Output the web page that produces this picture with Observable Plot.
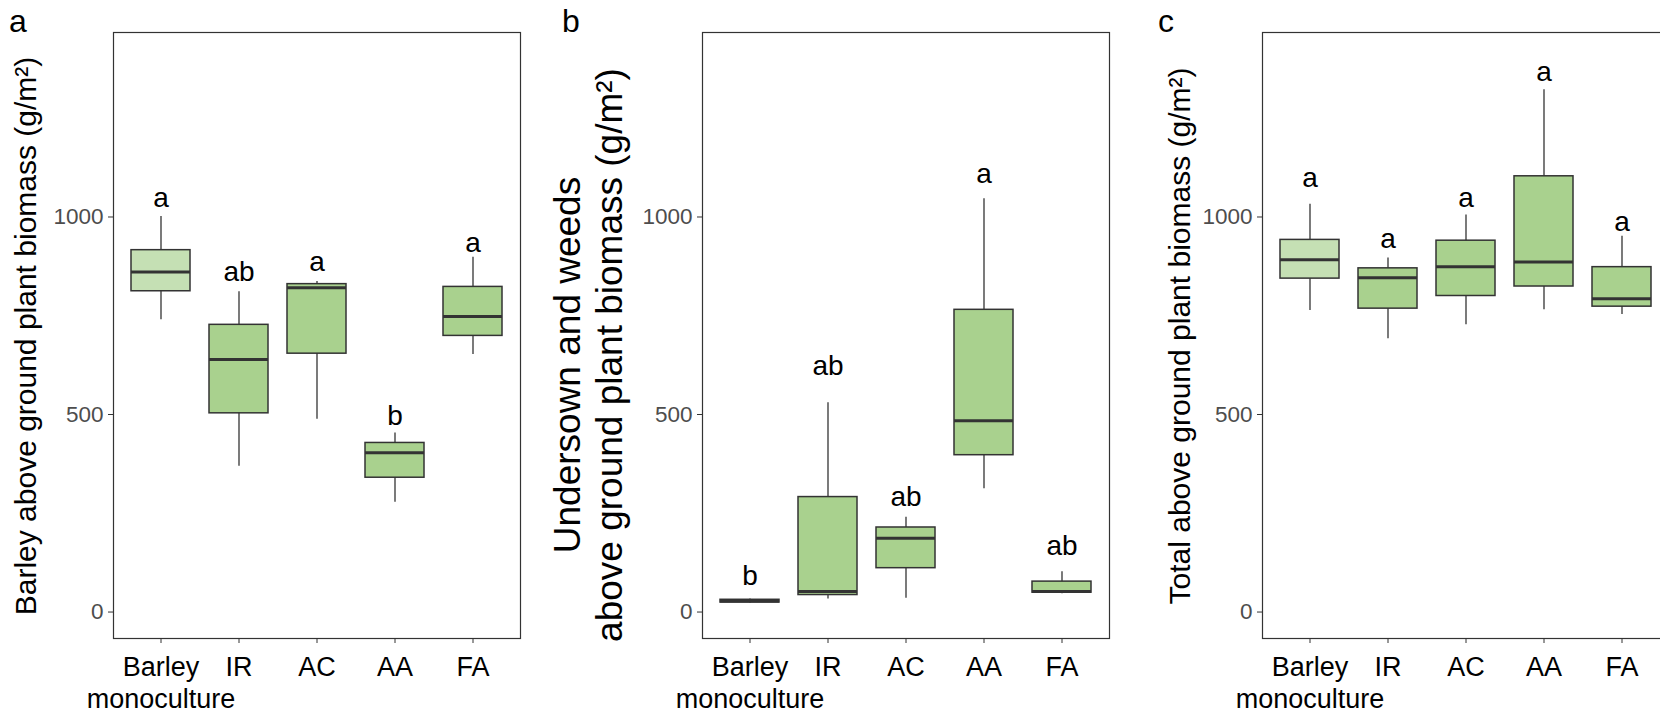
<!DOCTYPE html>
<html>
<head>
<meta charset="utf-8">
<script src="https://cdn.jsdelivr.net/npm/d3@7"></script>
<script src="https://cdn.jsdelivr.net/npm/@observablehq/plot@0.6"></script>
<style>
  html, body { margin: 0; padding: 0; background: #fff; }
  #wrap { position: relative; width: 1660px; height: 715px; overflow: hidden; background: #fff;
          font-family: "Liberation Sans", Arial, sans-serif; }
  #wrap svg { position: absolute; top: 0; }
</style>
</head>
<body>
<div id="wrap"></div>
<script>
// ---------- data ----------
const groups = ["Barley", "IR", "AC", "AA", "FA"];
const groupLabels = ["Barley\nmonoculture", "IR", "AC", "AA", "FA"];
const yTicks = [0, 500, 1000];

// panel a: barley above ground biomass
const aLow  = [740, 369, 488, 278, 652];
const aQ1   = [812, 503, 654, 340, 699];
const aMed  = [861, 639, 821, 403, 748];
const aQ3   = [916, 727, 830, 428, 823];
const aHigh = [1001, 811, 837, 453, 898];
const aLetters = ["a", "ab", "a", "b", "a"];
const aLetterY = [1049, 860, 885, 495, 934];

// panel b: undersown and weeds biomass
const bLow  = [22, 33, 35, 312, 46];
const bQ1   = [24, 43, 111, 397, 49];
const bMed  = [28, 52, 187, 484, 52];
const bQ3   = [31, 291, 214, 765, 77];
const bHigh = [33, 530, 240, 1046, 102];
const bLetters = ["b", "ab", "ab", "a", "ab"];
const bLetterY = [92, 622, 292, 1110, 166];

// panel c: total biomass
const cLow  = [763, 692, 727, 765, 753];
const cQ1   = [844, 768, 800, 824, 773];
const cMed  = [892, 846, 874, 886, 793];
const cQ3   = [942, 870, 940, 1103, 873];
const cHigh = [1032, 896, 1005, 1322, 951];
const cLetters = ["a", "a", "a", "a", "a"];
const cLetterY = [1099, 943, 1047, 1368, 988];

const panelTitles = ["a", "b", "c"];
const yTitleA = "Barley above ground plant biomass (g/m²)";
const yTitleB1 = "Undersown and weeds";
const yTitleB2 = "above ground plant biomass (g/m²)";
const yTitleC = "Total above ground plant biomass (g/m²)";

// ---------- drawing ----------
const lightFill = "#C5E0B4";
const boxFill = "#A9D18E";
const ink = "#333333";
const labelOf = new Map(groups.map((g, i) => [g, groupLabels[i]]));
const wrap = document.getElementById("wrap");

function addPanel(left, marginLeft, low, q1, med, q3, high, letters, letterY) {
  const rows = groups.map((g, i) => ({
    g, low: low[i], q1: q1[i], med: med[i], q3: q3[i], high: high[i],
    letter: letters[i], ly: letterY[i], fill: i === 0 ? lightFill : boxFill
  }));
  const frameW = 407;
  const chart = Plot.plot({
    width: marginLeft + frameW + 12,
    height: 740,
    marginLeft,
    marginRight: 12,
    marginTop: 32,
    marginBottom: 102,
    style: { fontFamily: '"Liberation Sans", Arial, sans-serif', background: "transparent", overflow: "visible" },
    x: { type: "band", domain: groups, paddingInner: 0.25, paddingOuter: 0.225, align: 0.5, axis: null },
    y: { domain: [-67, 1467], axis: null },
    color: { type: "identity" },
    marks: [
      Plot.frame({ stroke: ink, strokeWidth: 1.2 }),
      Plot.ruleX(rows, { x: "g", y1: "low", y2: "high", stroke: ink, strokeWidth: 1.3 }),
      Plot.barY(rows, { x: "g", y1: "q1", y2: "q3", fill: "fill", stroke: ink, strokeWidth: 1.5 }),
      Plot.tickY(rows, { x: "g", y: "med", stroke: ink, strokeWidth: 3 }),
      Plot.text(rows, { x: "g", y: "ly", text: "letter", fontSize: 28, fill: "#000", lineAnchor: "middle" }),
      Plot.axisY({ ticks: yTicks, tickSize: 5, tickPadding: 5, fontSize: 22.5, fill: "#4D4D4D", stroke: ink,
                   tickFormat: d => String(d), label: null }),
      Plot.axisX({ tickSize: 5, tickPadding: 10, fontSize: 27, lineHeight: 1.18, fill: "#000", stroke: ink,
                   tickFormat: d => labelOf.get(d), label: null })
    ]
  });
  chart.style.left = left + "px";
  wrap.appendChild(chart);
}

addPanel(0, 113, aLow, aQ1, aMed, aQ3, aHigh, aLetters, aLetterY);
addPanel(540, 162, bLow, bQ1, bMed, bQ3, bHigh, bLetters, bLetterY);
addPanel(1100, 162, cLow, cQ1, cMed, cQ3, cHigh, cLetters, cLetterY);

// overlay for axis titles and panel letters
const svg = d3.select(wrap).append("svg")
  .attr("width", 1660).attr("height", 715)
  .style("left", "0px")
  .attr("font-family", '"Liberation Sans", Arial, sans-serif');

const titles = [
  { text: yTitleA, x: 36, y: 336, size: 30 },
  { text: yTitleB1, x: 580, y: 365, size: 37 },
  { text: yTitleB2, x: 622, y: 355, size: 37 },
  { text: yTitleC, x: 1190, y: 336, size: 30 }
];
svg.selectAll("text.yt").data(titles).join("text")
  .attr("class", "yt")
  .attr("transform", d => `translate(${d.x},${d.y}) rotate(-90)`)
  .attr("text-anchor", "middle")
  .attr("font-size", d => d.size)
  .attr("fill", "#000")
  .text(d => d.text);

const letterPos = [9, 562, 1158];
svg.selectAll("text.pl").data(panelTitles).join("text")
  .attr("class", "pl")
  .attr("x", (d, i) => letterPos[i])
  .attr("y", 32)
  .attr("font-size", 32)
  .attr("fill", "#000")
  .text(d => d);
</script>
</body>
</html>
